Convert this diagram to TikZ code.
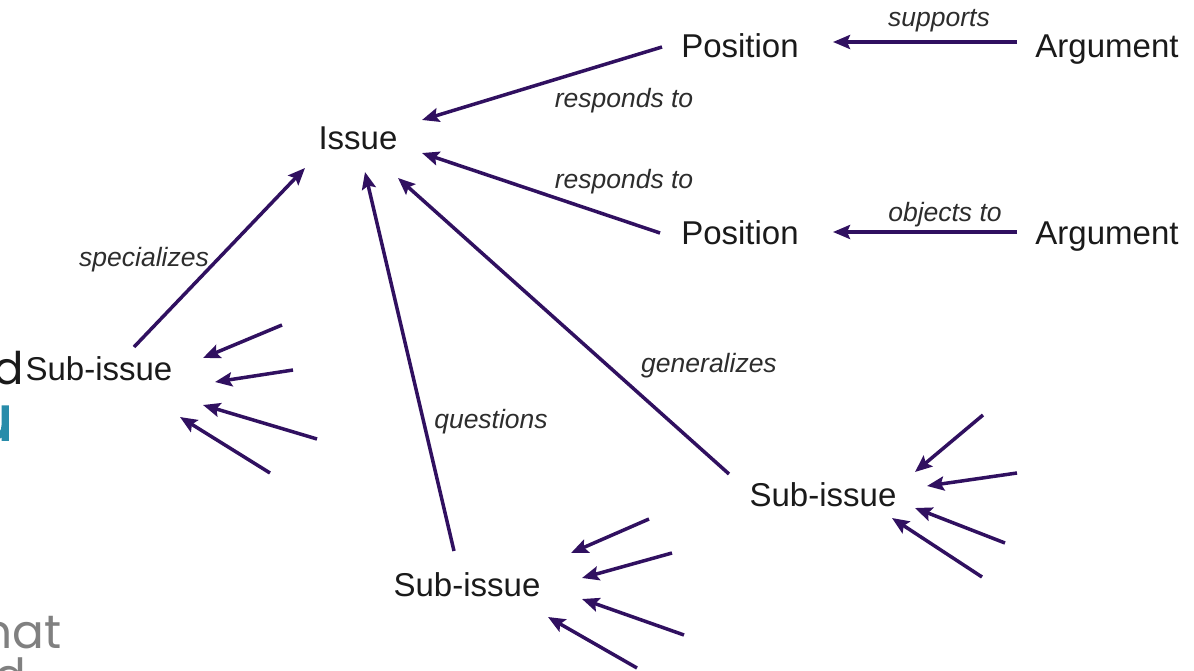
\documentclass[tikz,border=0pt]{standalone}
\usepackage{fontspec}
\setmainfont{Liberation Sans}
\newfontfamily\deckfont{Poppins}
\newfontfamily\deckbold{Poppins}[FakeBold=2.5]
\usetikzlibrary{arrows.meta}
\definecolor{arrowc}{RGB}{48,16,96}
\definecolor{txt}{RGB}{26,26,26}
\definecolor{lbl}{RGB}{45,45,45}
\definecolor{deckblue}{RGB}{40,140,170}
\definecolor{deckgray}{RGB}{128,128,128}
\begin{document}
\begin{tikzpicture}[x=1pt,y=-1pt,
  concept/.style={font=\fontsize{33}{38}\selectfont, text=txt, inner sep=0pt, anchor=base},
  rel/.style={font=\fontsize{26.5}{30}\selectfont\itshape, text=lbl, inner sep=0pt, anchor=base},
  link/.style={draw=arrowc, line width=3.5pt, -{Stealth[length=17pt,width=14pt,inset=3pt]}},
  deck/.style={font=\deckfont\fontsize{47}{52}\selectfont, inner sep=0pt, anchor=base east}]
\clip (0,0) rectangle (1194,671);
\fill[white] (0,0) rectangle (1194,671);

% cut-off slide text at the left edge
\node[deck, text=txt, font=\deckfont\fontsize{45}{50}\selectfont] (deckd) at (24,384) {d};
\node[deck, text=deckblue, font=\deckbold\fontsize{62}{66}\selectfont] (decku) at (13,440) {u};
\node[deck, text=deckgray] (deckhat) at (62,648) {hat};
\node[deck, text=deckgray] (deckd2) at (26,692) {d};

% concepts
\node[concept] (pos1) at (740,58) {Position};
\node[concept] (arg1) at (1107,58) {Argument};
\node[concept] (pos2) at (740,244) {Position};
\node[concept] (arg2) at (1107,244) {Argument};
\node[concept] (issue) at (358,150) {Issue};
\node[concept] (subL) at (99,380) {Sub-issue};
\node[concept] (subR) at (823,506) {Sub-issue};
\node[concept] (subB) at (467,596) {Sub-issue};

% relation labels
\node[rel] (lsup) at (939,27) {supports};
\node[rel] (lresp1) at (624,108) {responds to};
\node[rel] (lresp2) at (624,189) {responds to};
\node[rel] (lobj) at (945,222) {objects to};
\node[rel] (lspec) at (144,266) {specializes};
\node[rel] (lgen) at (709,372) {generalizes};
\node[rel] (lques) at (491,428) {questions};

% connector end points attached to the nodes
\coordinate (arg1-out) at (1017,42);
\coordinate (pos1-in) at (833,42);
\coordinate (arg2-out) at (1017,232);
\coordinate (pos2-in) at (833,232);
\coordinate (pos1-out) at (662,47);
\coordinate (pos2-out) at (660,233);
\coordinate (issue-in1) at (422,120);
\coordinate (issue-in2) at (422,153);
\coordinate (issue-in3) at (305,168);
\coordinate (issue-in4) at (365,172);
\coordinate (issue-in5) at (398,178);
\coordinate (subL-out) at (134,347);
\coordinate (subB-out) at (454,551);
\coordinate (subR-out) at (729,474);

\draw[link] (arg1-out) -- (pos1-in);
\draw[link] (arg2-out) -- (pos2-in);
\draw[link] (pos1-out) -- (issue-in1);
\draw[link] (pos2-out) -- (issue-in2);
\draw[link] (subL-out) -- (issue-in3);
\draw[link] (subB-out) -- (issue-in4);
\draw[link] (subR-out) -- (issue-in5);

% fans of incoming arrows
\coordinate (fl1s) at (282,325); \coordinate (fl1e) at (203,358);
\coordinate (fl2s) at (293,370); \coordinate (fl2e) at (215,382);
\coordinate (fl3s) at (317,439); \coordinate (fl3e) at (203,405);
\coordinate (fl4s) at (270,473); \coordinate (fl4e) at (180,417);
\coordinate (fb1s) at (649,519); \coordinate (fb1e) at (571,553);
\coordinate (fb2s) at (672,553); \coordinate (fb2e) at (582,578);
\coordinate (fb3s) at (684,635); \coordinate (fb3e) at (582,599);
\coordinate (fb4s) at (637,668); \coordinate (fb4e) at (548,617);
\coordinate (fr1s) at (983,415); \coordinate (fr1e) at (915,472);
\coordinate (fr2s) at (1017,473); \coordinate (fr2e) at (927,486);
\coordinate (fr3s) at (1005,543); \coordinate (fr3e) at (915,508);
\coordinate (fr4s) at (982,577); \coordinate (fr4e) at (892,518);
\foreach \f in {fl1,fl2,fl3,fl4,fb1,fb2,fb3,fb4,fr1,fr2,fr3,fr4}
  \draw[link] (\f s) -- (\f e);
\end{tikzpicture}
\end{document}
